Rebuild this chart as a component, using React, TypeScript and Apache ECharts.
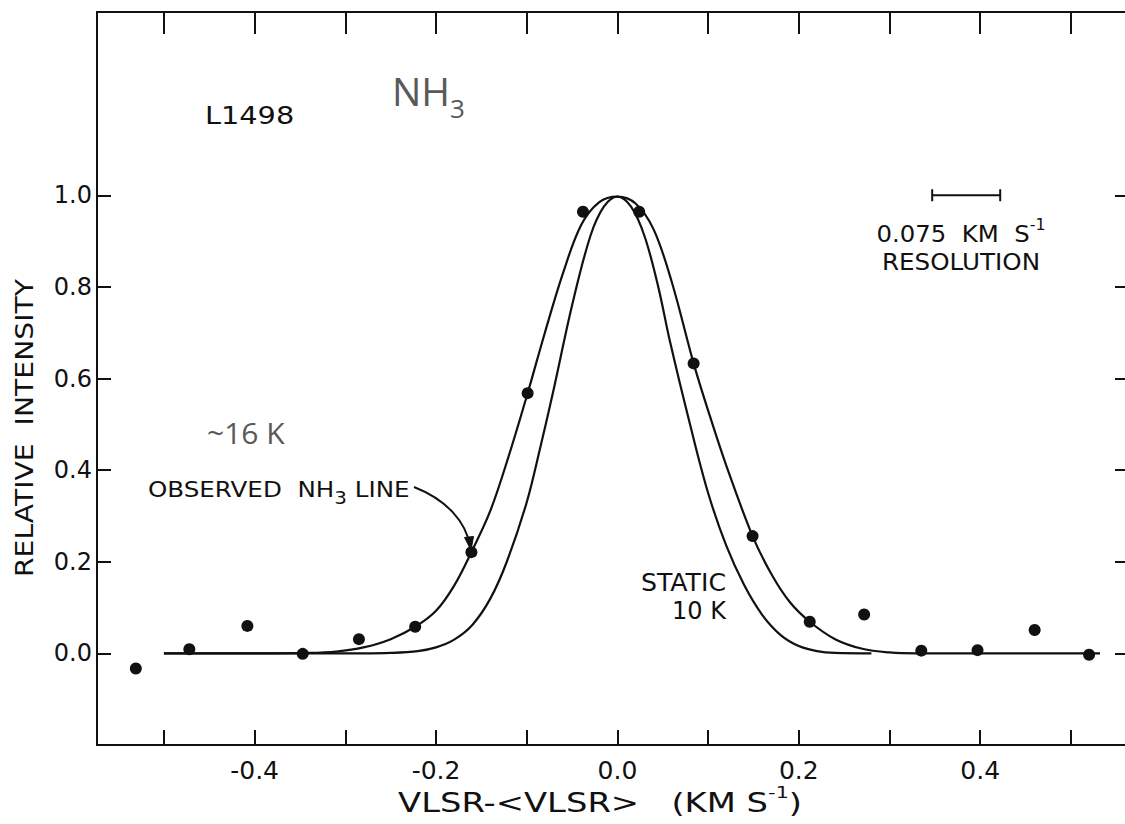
import React, { useEffect, useRef } from "react";
import * as echarts from "echarts";

// Observed data points (VLSR - <VLSR>, relative intensity)
const pointX = [-0.531, -0.472, -0.408, -0.347, -0.285, -0.223, -0.161, -0.099, -0.038, 0.024, 0.084, 0.149, 0.212, 0.272, 0.335, 0.397, 0.46, 0.52];
const pointY = [-0.033, 0.009, 0.06, -0.001, 0.031, 0.058, 0.221, 0.568, 0.964, 0.964, 0.633, 0.256, 0.069, 0.085, 0.006, 0.007, 0.051, -0.003];

// Observed NH3 line (fitted curve)
const obsX = [-0.5, -0.4, -0.34, -0.31, -0.28, -0.25, -0.223, -0.2, -0.18, -0.161, -0.14, -0.12, -0.099, -0.08, -0.06, -0.04, -0.02, 0, 0.02, 0.04, 0.06, 0.084, 0.1, 0.12, 0.149, 0.17, 0.19, 0.212, 0.24, 0.27, 0.3, 0.33, 0.532];
const obsY = [0, 0, 0.001, 0.004, 0.013, 0.031, 0.058, 0.093, 0.148, 0.221, 0.312, 0.43, 0.568, 0.7, 0.83, 0.935, 0.985, 0.997, 0.982, 0.925, 0.81, 0.633, 0.53, 0.41, 0.256, 0.172, 0.112, 0.069, 0.031, 0.01, 0.002, 0, 0];

// Static 10 K curve
const statX = [-0.5, -0.28, -0.25, -0.22, -0.2, -0.18, -0.16, -0.14, -0.122, -0.1, -0.085, -0.071, -0.05, -0.03, -0.015, 0, 0.015, 0.03, 0.045, 0.058, 0.08, 0.1, 0.12, 0.14, 0.16, 0.18, 0.2, 0.22, 0.24, 0.28];
const statY = [0, 0, 0.001, 0.005, 0.013, 0.03, 0.062, 0.12, 0.2, 0.33, 0.45, 0.57, 0.76, 0.91, 0.975, 0.997, 0.975, 0.91, 0.8, 0.68, 0.5, 0.35, 0.235, 0.148, 0.083, 0.04, 0.016, 0.005, 0.001, 0];

const xTickValues = [-0.5, -0.4, -0.3, -0.2, -0.1, 0, 0.1, 0.2, 0.3, 0.4, 0.5];
const xLabelValues = [-0.4, -0.2, 0, 0.2, 0.4];
const yTickValues = [0, 0.2, 0.4, 0.6, 0.8, 1.0];

const resolutionStart = 0.347;
const resolutionWidth = 0.075;
const resolutionLevel = 1.0;

const INK = "#111111";
const GRAY = "#595959";
const FONT = "DejaVu Sans";

export default function App() {
  const ref = useRef<HTMLDivElement>(null);

  useEffect(() => {
    if (!ref.current) return;
    const chart = echarts.init(ref.current, null, { renderer: "svg" });
    const fmt = (v: number) => (Math.abs(v) < 1e-9 ? "0.0" : v.toFixed(1));
    const xMin = -0.5738;
    const xMax = 0.5596;
    const option: any = {
      animation: false,
      backgroundColor: "#ffffff",
      grid: { left: 97, top: 12, width: 1028, height: 733, containLabel: false },
      xAxis: [
        {
          type: "value",
          position: "bottom",
          min: xMin,
          max: xMax,
          axisLine: { show: true, onZero: false, lineStyle: { color: INK, width: 2 } },
          axisTick: { show: true, inside: true, length: 15, customValues: xTickValues, lineStyle: { color: INK, width: 2 } },
          axisLabel: {
            show: true,
            customValues: xLabelValues,
            formatter: fmt,
            color: INK,
            fontFamily: FONT,
            fontSize: 25,
            margin: 13,
          },
          splitLine: { show: false },
        },
        {
          type: "value",
          position: "top",
          min: xMin,
          max: xMax,
          axisLine: { show: true, onZero: false, lineStyle: { color: INK, width: 2 } },
          axisTick: { show: true, inside: true, length: 22, customValues: xTickValues, lineStyle: { color: INK, width: 2 } },
          axisLabel: { show: false },
          splitLine: { show: false },
        },
      ],
      yAxis: [
        {
          type: "value",
          position: "left",
          min: -0.2,
          max: 1.4,
          interval: 0.2,
          axisLine: { show: true, onZero: false, lineStyle: { color: INK, width: 2 } },
          axisTick: { show: true, inside: true, length: 14, customValues: yTickValues, lineStyle: { color: INK, width: 2 } },
          axisLabel: {
            show: true,
            customValues: yTickValues,
            formatter: fmt,
            color: INK,
            fontFamily: FONT,
            fontSize: 24,
            margin: 5,
          },
          splitLine: { show: false },
        },
        {
          type: "value",
          position: "right",
          min: -0.2,
          max: 1.4,
          interval: 0.2,
          axisLine: { show: false, onZero: false },
          axisTick: { show: true, inside: true, length: 10, customValues: yTickValues, lineStyle: { color: INK, width: 2 } },
          axisLabel: { show: false },
          splitLine: { show: false },
        },
      ],
      series: [
        {
          name: "Observed NH3 line",
          type: "line",
          xAxisIndex: 0,
          yAxisIndex: 0,
          data: obsX.map((x, i) => [x, obsY[i]]),
          smooth: 0.35,
          showSymbol: false,
          lineStyle: { color: INK, width: 2.2 },
          z: 2,
        },
        {
          name: "Static 10 K",
          type: "line",
          xAxisIndex: 0,
          yAxisIndex: 0,
          data: statX.map((x, i) => [x, statY[i]]),
          smooth: 0.35,
          showSymbol: false,
          lineStyle: { color: INK, width: 2.2 },
          z: 2,
        },
        {
          name: "Data",
          type: "scatter",
          xAxisIndex: 0,
          yAxisIndex: 0,
          data: pointX.map((x, i) => [x, pointY[i]]),
          symbol: "circle",
          symbolSize: 12,
          itemStyle: { color: INK, opacity: 1 },
          z: 3,
        },
      ],
    };
    chart.setOption(option);

    const p1 = chart.convertToPixel({ xAxisIndex: 0, yAxisIndex: 0 }, [resolutionStart, resolutionLevel]) as number[];
    const p2 = chart.convertToPixel({ xAxisIndex: 0, yAxisIndex: 0 }, [resolutionStart + resolutionWidth, resolutionLevel]) as number[];
    const barStyle = { stroke: INK, lineWidth: 2 };

    const txt = (text: string, x: number, y: number, size: number, scaleX = 1, extra: any = {}) => ({
      type: "text",
      x,
      y,
      scaleX,
      style: {
        text,
        fill: INK,
        font: `${size}px "${FONT}"`,
        textAlign: "left",
        textVerticalAlign: "middle",
        ...extra,
      },
    });

    chart.setOption({
      graphic: [
        // axis titles
        {
          type: "text",
          x: 24,
          y: 428,
          rotation: Math.PI / 2,
          scaleX: 1.13,
          style: {
            text: "RELATIVE  INTENSITY",
            fill: INK,
            font: `25px "${FONT}"`,
            textAlign: "center",
            textVerticalAlign: "middle",
          },
        },
        {
          type: "text",
          x: 600,
          y: 800,
          scaleX: 1.3,
          style: {
            text: "{a|VLSR-<VLSR>   (KM S}{s|-1}{a|)}",
            fill: INK,
            textAlign: "center",
            textVerticalAlign: "middle",
            rich: {
              a: { fontFamily: FONT, fontSize: 26, fill: INK, lineHeight: 32, verticalAlign: "bottom" },
              s: { fontFamily: FONT, fontSize: 16, fill: INK, lineHeight: 30, verticalAlign: "top" },
            },
          },
        },
        txt("L1498", 205, 115, 25, 1.15),
        {
          type: "text",
          x: 392,
          y: 96,
          style: {
            text: "{a|NH}{b|3}",
            fill: GRAY,
            textAlign: "left",
            textVerticalAlign: "middle",
            rich: {
              a: { fontFamily: "Open Sans", fontSize: 39, fill: GRAY, lineHeight: 50, verticalAlign: "top" },
              b: { fontFamily: "Open Sans", fontSize: 26, fill: GRAY, lineHeight: 44, verticalAlign: "bottom" },
            },
          },
        },
        {
          type: "text",
          x: 207,
          y: 432,
          style: {
            text: "~16 K",
            fill: GRAY,
            font: `30px "Open Sans"`,
            textAlign: "left",
            textVerticalAlign: "middle",
          },
        },
        {
          type: "text",
          x: 148,
          y: 493,
          scaleX: 1.17,
          style: {
            text: "{a|OBSERVED  NH}{b|3}{a| LINE}",
            fill: INK,
            textAlign: "left",
            textVerticalAlign: "middle",
            rich: {
              a: { fontFamily: FONT, fontSize: 21, fill: INK, lineHeight: 28, verticalAlign: "top" },
              b: { fontFamily: FONT, fontSize: 17, fill: INK, lineHeight: 22, verticalAlign: "bottom" },
            },
          },
        },
        {
          type: "bezierCurve",
          shape: { x1: 414, y1: 487, x2: 470, y2: 546, cpx1: 447, cpy1: 500, cpx2: 466, cpy2: 522 },
          style: { stroke: INK, lineWidth: 2, fill: null },
        },
        {
          type: "polygon",
          shape: { points: [[471, 550], [464.5, 537.5], [473.5, 536.5]] },
          style: { fill: INK, stroke: INK, lineWidth: 1 },
        },
        txt("STATIC", 726, 583, 24, 1.05, { textAlign: "right" }),
        txt("10 K", 726, 611, 24, 1, { textAlign: "right" }),
        // resolution bar
        { type: "line", shape: { x1: p1[0], y1: p1[1], x2: p2[0], y2: p2[1] }, style: barStyle },
        { type: "line", shape: { x1: p1[0], y1: p1[1] - 6, x2: p1[0], y2: p1[1] + 6 }, style: barStyle },
        { type: "line", shape: { x1: p2[0], y1: p2[1] - 6, x2: p2[0], y2: p2[1] + 6 }, style: barStyle },
        {
          type: "text",
          x: 961,
          y: 232,
          scaleX: 1.06,
          style: {
            text: "{a|0.075  KM  S}{s|-1}",
            fill: INK,
            textAlign: "center",
            textVerticalAlign: "middle",
            rich: {
              a: { fontFamily: FONT, fontSize: 23, fill: INK, lineHeight: 28, verticalAlign: "bottom" },
              s: { fontFamily: FONT, fontSize: 15, fill: INK, lineHeight: 28, verticalAlign: "top" },
            },
          },
        },
        txt("RESOLUTION", 961, 262, 23, 1.07, { textAlign: "center" }),
      ],
    });

    return () => chart.dispose();
  }, []);

  return (
    <div
      ref={ref}
      style={{ position: "absolute", left: 0, top: 0, width: 1125, height: 824, background: "#fff" }}
    />
  );
}
